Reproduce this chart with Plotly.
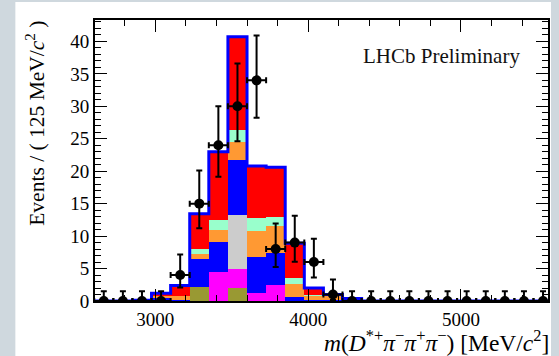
import plotly.graph_objects as go

# ---------------- data ----------------
bin_centers = [2662.5, 2787.5, 2912.5, 3037.5, 3162.5, 3287.5, 3412.5, 3537.5,
               3662.5, 3787.5, 3912.5, 4037.5, 4162.5, 4287.5, 4412.5, 4537.5,
               4662.5, 4787.5, 4912.5, 5037.5, 5162.5, 5287.5, 5412.5, 5537.5]
bin_width = 125

data_counts = [0, 0, 0, 0, 4, 15, 24, 30, 34, 8, 9, 6, 1, 0, 0, 0, 0, 0, 0, 0, 0, 0, 0, 0]
err_up =      [1.5, 1.5, 1.5, 1.5, 3.16, 5.1, 6.0, 6.6, 6.9, 3.94, 4.12, 3.58, 2.30,
               1.5, 1.5, 1.5, 1.5, 1.5, 1.5, 1.5, 1.5, 1.5, 1.5, 1.5]
err_down =    [0, 0, 0, 0, 1.91, 3.8, 4.85, 5.4, 5.75, 2.76, 2.94, 2.38, 0.83,
               0, 0, 0, 0, 0, 0, 0, 0, 0, 0, 0]

# stacked components (bottom -> top)
comp_olive   = [0, 0, 0,   0.2, 0,   2.1,  0,    2.0,  0,   0,   0,   0,   0,   0,   0,0,0,0,0,0,0,0,0,0]
comp_magenta = [0, 0, 0,   0,   0,   0,    4.5,  2.9,  1.2, 2.5, 0,   0,   0,   0,   0,0,0,0,0,0,0,0,0,0]
comp_grey    = [0, 0, 0,   0,   0,   0,    0,    8.4,  0,   0,   0,   0,   0,   0,   0,0,0,0,0,0,0,0,0,0]
comp_blue    = [0, 0, 0.1, 0.2, 0.2, 4.3,  4.6,  8.5,  5.6, 4.9, 0.6, 0.2, 0.2, 0.1, 0,0,0,0,0,0,0,0,0,0]
comp_orange  = [0, 0, 0,   0.5, 0.5, 0.8,  1.9,  2.7,  4.0, 4.1, 2.0, 0.6, 0.7, 0.3, 0,0,0,0,0,0,0,0,0,0]
comp_aqua    = [0, 0, 0,   0,   0,   0.75, 1.5,  1.9,  2.0, 1.4, 0.9, 0.1, 0,   0,   0,0,0,0,0,0,0,0,0,0]
comp_red     = [0, 0, 0,   0.3, 1.7, 5.5,  10.5, 14.3, 8.0, 7.7, 5.4, 1.1, 0.1, 0,   0,0,0,0,0,0,0,0,0,0]

x_tickvals = [3000, 4000, 5000]
y_tickvals = [0, 5, 10, 15, 20, 25, 30, 35, 40]

components = [
    ("olive", comp_olive, "#999933"),
    ("magenta", comp_magenta, "#ff00ff"),
    ("grey", comp_grey, "#cccccc"),
    ("blue", comp_blue, "#0000ff"),
    ("orange", comp_orange, "#ff9933"),
    ("aqua", comp_aqua, "#99ffcc"),
    ("red", comp_red, "#ff0000"),
]

fig = go.Figure()
for name, vals, col in components:
    fig.add_trace(go.Bar(x=bin_centers, y=vals, width=bin_width, name=name,
                         marker=dict(color=col, line=dict(width=0)),
                         showlegend=False, hoverinfo="skip"))

# total outline
totals = [sum(c[1][i] for c in components) for i in range(len(bin_centers))]
edges = [c - bin_width / 2 for c in bin_centers] + [bin_centers[-1] + bin_width / 2]
fig.add_trace(go.Scatter(x=edges, y=totals + [totals[-1]], mode="lines",
                         line=dict(color="#0000ff", width=3, shape="hv"),
                         showlegend=False, hoverinfo="skip"))

# data points
fig.add_trace(go.Scatter(
    x=bin_centers, y=data_counts, mode="markers",
    marker=dict(color="black", size=10),
    error_y=dict(type="data", array=err_up, arrayminus=err_down, symmetric=False,
                 color="black", thickness=2, width=3),
    error_x=dict(type="constant", value=bin_width / 2, color="black", thickness=2, width=3),
    showlegend=False, hoverinfo="skip"))

L, R, T, B = 95, 9, 20, 55
W, H = 559, 356
pw, ph = W - L - R, H - T - B

def px(x):
    return (x - L) / pw

def py(y):
    return (H - B - y) / ph

serif = "Liberation Serif"

fig.update_layout(
    width=W, height=H,
    margin=dict(l=L, r=R, t=T, b=B),
    paper_bgcolor="#cfd8de",
    plot_bgcolor="white",
    barmode="stack", bargap=0,
    font=dict(family=serif, size=19, color="black"),
    xaxis=dict(range=[2605, 5570], tickvals=x_tickvals, ticks="inside", ticklen=12,
               tickwidth=1, tickcolor="black", showline=True, linecolor="black",
               linewidth=2, mirror="allticks", showgrid=False, zeroline=False,
               tickfont=dict(family=serif, size=19, color="black"),
               minor=dict(ticks="inside", ticklen=6, dtick=200, tickcolor="black",
                          tickwidth=1, showgrid=False)),
    yaxis=dict(range=[0, 43.3], tickvals=y_tickvals, ticks="inside", ticklen=12,
               tickwidth=1, tickcolor="black", showline=True, linecolor="black",
               linewidth=2, mirror="allticks", showgrid=False, zeroline=False,
               tickfont=dict(family=serif, size=19, color="black"),
               ticklabelstandoff=0,
               minor=dict(ticks="inside", ticklen=6, dtick=1, tickcolor="black",
                          tickwidth=1, showgrid=False)),
    shapes=[dict(type="rect", xref="paper", yref="paper",
                 x0=px(15), x1=px(553), y0=py(360), y1=py(2),
                 fillcolor="white", line=dict(width=0), layer="below")],
    annotations=[
        dict(text="LHCb Preliminary", xref="paper", yref="paper",
             x=px(443), y=py(56), xanchor="center", yanchor="middle",
             showarrow=False, font=dict(family=serif, size=21, color="#111111")),
        dict(text="Events / ( 125 MeV/<i>c</i><sup>2</sup> )", xref="paper", yref="paper",
             x=px(35), y=py(19), xanchor="center", yanchor="top", textangle=-90,
             showarrow=False, font=dict(family=serif, size=21.5, color="black")),
        dict(text="<i>m</i>(<i>D</i><sup>*+</sup><i>π</i><sup>−</sup><i>π</i><sup>+</sup><i>π</i><sup>−</sup>) [MeV/<i>c</i><sup>2</sup>]",
             xref="paper", yref="paper", x=px(553), y=py(341), xanchor="right",
             yanchor="middle", showarrow=False,
             font=dict(family=serif, size=23.5, color="black")),
    ],
)

fig.write_html("out.html", config={"displayModeBar": False},
               post_script="document.body.style.margin='0';document.body.style.padding='0';")
